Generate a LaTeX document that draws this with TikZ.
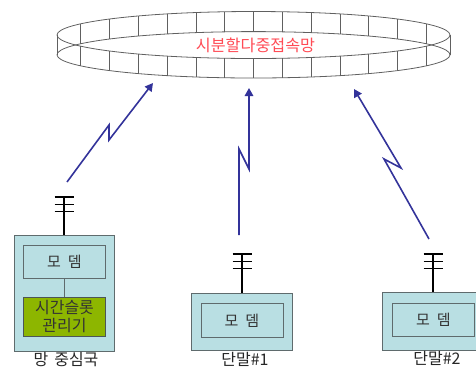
\documentclass[tikz,border=0pt]{standalone}
\usepackage{fontspec}
\setmainfont{Noto Sans CJK KR}
\usetikzlibrary{arrows.meta}
\definecolor{boxfill}{HTML}{B9DFE3}
\definecolor{boxline}{HTML}{5F6B6D}
\definecolor{greenfill}{HTML}{8DB600}
\definecolor{boltblue}{HTML}{33339A}
\definecolor{ringline}{HTML}{606060}
\definecolor{labelred}{HTML}{FF4B55}
\definecolor{txt}{HTML}{333333}
\tikzset{
  outerbox/.style={draw=boxline,fill=boxfill,line width=1pt,inner sep=0pt,anchor=north west},
  modembox/.style={draw=boxline,fill=boxfill,line width=1pt,inner sep=0pt,anchor=north west,text=txt,font=\fontsize{15}{17}\selectfont},
  clockbox/.style={draw=boxline!80!black,fill=greenfill,line width=1pt,inner sep=0pt,anchor=north west,text=txt,align=center,font=\fontsize{16}{19}\selectfont},
  caption/.style={text=black!85,inner sep=0pt,font=\fontsize{16}{18}\selectfont},
  mast/.style={draw=black,line width=1.5pt},
  bolt/.style={draw=boltblue,line width=1.6pt,-{Triangle[length=8pt,width=8.5pt]},line join=miter},
  ring/.style={draw=ringline,line width=0.8pt},
}
\newcommand{\antenna}[3]{% x, top y, name
  \coordinate (#3-top) at (#1,#2);
  \foreach \dy in {0,7.3,14.6}
    \draw[mast] ([xshift=-9.5pt,yshift=-\dy pt]#3-top) -- ([xshift=9.5pt,yshift=-\dy pt]#3-top);
}
\begin{document}
\begin{tikzpicture}[x=1pt,y=-1pt]
\useasboundingbox (0,0) rectangle (476,368);
% ring
\def\cx{253.5}\def\rx{196.5}
\def\ta{35}\def\tb{23.5}\def\ba{54.8}\def\bb{23.2}
\draw[ring] (\cx,\ta) ellipse [x radius=\rx,y radius=\tb];
\draw[ring] (\cx,\ba) ellipse [x radius=\rx,y radius=\bb];
\draw[ring] (\cx-\rx,\ta) -- (\cx-\rx,\ba);
\draw[ring] (\cx+\rx,\ta) -- (\cx+\rx,\ba);
\foreach \xx in {80.7,109.3,138.7,167.3,196,224.7,253.3,282,311,340,368,397,426}{
  \pgfmathsetmacro{\s}{sqrt(1-((\xx-\cx)/\rx)^2)}
  \pgfmathsetmacro{\ya}{\ta-\tb*\s}
  \pgfmathsetmacro{\yb}{\ba-\bb*\s}
  \pgfmathsetmacro{\yc}{\ta+\tb*\s}
  \pgfmathsetmacro{\yd}{\ba+\bb*\s}
  \draw[ring] (\xx,\ya) -- (\xx,\yb);
  \draw[ring] (\xx,\yc) -- (\xx,\yd);
}
\node[text=labelred,inner sep=0pt,font=\fontsize{16.2}{18}\selectfont] (tdma) at (255.5,45) {시분할다중접속망};
% hub
\node[outerbox,minimum width=100pt,minimum height=116pt] (hub) at (14,235) {};
\node[modembox,minimum width=82pt,minimum height=33pt] (hubmodem) at (23,245) {모\hspace{7pt}뎀};
\node[clockbox,minimum width=82pt,minimum height=39pt] (slot) at (23,297) {\raisebox{-2pt}{시간슬롯}\\[-1pt]\raisebox{-2pt}{관리기}};
\draw[draw=boxline,line width=1pt] (hubmodem) -- (slot);
\node[caption] (hublabel) at (66,359) {망\hspace{6pt}중심국};
% terminal 1
\node[outerbox,minimum width=101pt,minimum height=57pt] (t1) at (191,293) {};
\node[modembox,minimum width=82pt,minimum height=34pt] (t1modem) at (200.5,303) {모\hspace{7pt}뎀};
\node[caption] (t1label) at (245,359) {단말\#1};
% terminal 2
\node[outerbox,minimum width=94pt,minimum height=58pt] (t2) at (382,292) {};
\node[modembox,minimum width=82pt,minimum height=33pt] (t2modem) at (392,303) {모\hspace{7pt}뎀};
\node[caption] (t2label) at (437,358) {단말\#2};
% antennas
\antenna{64}{197}{ah}
\draw[mast] (ah-top) -- (ah-top |- hub.north);
\antenna{242}{254}{a1}
\draw[mast] (a1-top) -- (a1-top |- t1.north);
\antenna{433}{254}{a2}
\draw[mast] (a2-top) -- (a2-top |- t2.north);
% bolts
\coordinate (b0s) at (67,182); \coordinate (b0t) at (153,83);
\coordinate (b1s) at (239,235); \coordinate (b1t) at (249,88);
\coordinate (b2s) at (429,239); \coordinate (b2t) at (354,89);
\draw[bolt] (b0s) -- (109,125) -- (109,140) -- (b0t);
\draw[bolt] (b1s) -- (239,149) -- (249,169) -- (b1t);
\draw[bolt] (b2s) -- (384,159) -- (401,168) -- (b2t);
\end{tikzpicture}
\end{document}
